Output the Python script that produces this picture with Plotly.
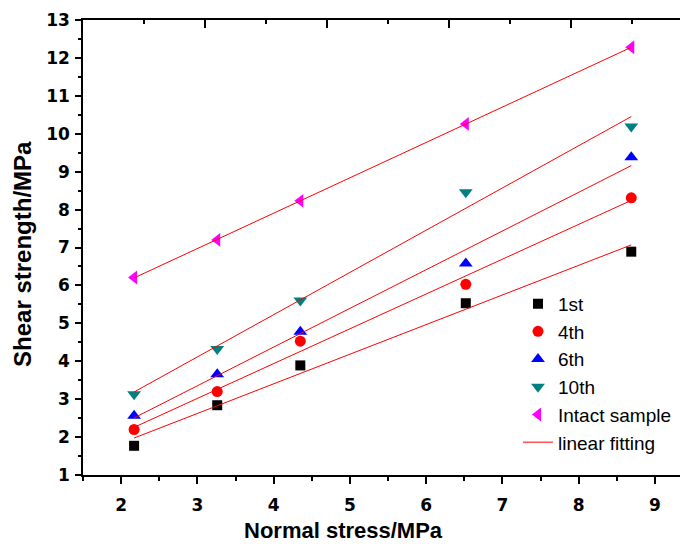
import numpy as np
import plotly.graph_objects as go

normal_stress = [2.17, 3.26, 4.35, 6.52, 8.69]
series_names = ["1st", "4th", "6th", "10th", "Intact sample"]
shear_1st = [1.77, 2.84, 3.89, 5.53, 6.89]
shear_4th = [2.20, 3.20, 4.53, 6.03, 8.31]
shear_6th = [2.56, 3.66, 4.78, 6.58, 9.38]
shear_10th = [3.13, 4.32, 5.60, 8.46, 10.19]
shear_intact = [6.21, 7.20, 8.23, 10.26, 12.28]
x_ticks = [2, 3, 4, 5, 6, 7, 8, 9]
y_ticks = list(range(1, 14))

series = [shear_1st, shear_4th, shear_6th, shear_10th, shear_intact]
symbols = ["square", "circle", "triangle-up", "triangle-down", "triangle-left"]
colors = ["#000000", "#FF0000", "#0000FF", "#008080", "#FF00FF"]
sizes = [10, 11, 12, 12, 12]

fig = go.Figure()
for name, ys, sym, col, sz in zip(series_names, series, symbols, colors, sizes):
    fig.add_trace(go.Scatter(x=normal_stress, y=ys, mode="markers", name=name,
                             marker=dict(symbol=sym, color=col, size=sz, line=dict(width=0))))

for i, ys in enumerate(series):
    k, b = np.polyfit(normal_stress, ys, 1)
    xs = [normal_stress[0], normal_stress[-1]]
    fig.add_trace(go.Scatter(x=xs, y=[k * xs[0] + b, k * xs[1] + b], mode="lines",
                             name="linear fitting", legendgroup="fit",
                             showlegend=(i == 0), line=dict(color="#FF0000", width=1)))

# decorative top/right axes (empty trace so they render)
fig.add_trace(go.Scatter(x=[], y=[], xaxis="x2", yaxis="y2", showlegend=False))

tickfont = dict(family="DejaVu Sans", size=17, color="black", weight="bold")

# page body has an 8px margin, so the figure is offset by (8, 8)
fig.update_layout(
    template="none",
    width=680, height=536,
    margin=dict(l=75, r=0, t=12, b=69, pad=0, autoexpand=False),
    paper_bgcolor="white", plot_bgcolor="white",
    showlegend=True,
    legend=dict(x=0.719, y=0.418, xanchor="left", yanchor="top",
                font=dict(family="Liberation Sans, Arial", size=19, color="black"),
                bgcolor="rgba(0,0,0,0)", borderwidth=0, tracegroupgap=0),
    xaxis=dict(range=[1.5, 9.434], domain=[0, 1], tickvals=x_ticks, automargin=False,
               ticks="outside", ticklen=7, tickwidth=1.5, tickcolor="black",
               ticklabelstandoff=7,
               minor=dict(dtick=0.5, ticklen=4, tickwidth=1.5, tickcolor="black", ticks="outside"),
               showline=True, linecolor="black", linewidth=1.5, mirror=False,
               showgrid=False, zeroline=False, tickfont=tickfont),
    yaxis=dict(range=[1, 13], tickvals=y_ticks, automargin=False,
               ticks="outside", ticklen=6, tickwidth=1.5, tickcolor="black",
               ticklabelstandoff=2,
               minor=dict(dtick=0.5, ticklen=3, tickwidth=1.5, tickcolor="black", ticks="outside"),
               showline=True, linecolor="black", linewidth=1.5, mirror=False,
               showgrid=False, zeroline=False, tickfont=tickfont),
    xaxis2=dict(overlaying="x", side="top", anchor="y", range=[0, 605 / 61], dtick=2,
                automargin=False,
                ticks="inside", ticklen=8, tickwidth=1.5, tickcolor="black",
                minor=dict(dtick=1, ticklen=4, tickwidth=1.5, tickcolor="black", ticks="inside"),
                showline=True, linecolor="black", linewidth=1.5,
                showticklabels=False, showgrid=False, zeroline=False),
    yaxis2=dict(overlaying="y", side="right", anchor="x", range=[0, 5], dtick=1,
                automargin=False,
                ticks="inside", ticklen=5, tickwidth=1.5, tickcolor="black",
                showline=False, showticklabels=False, showgrid=False, zeroline=False),
    annotations=[
        dict(text="Normal stress/MPa", xref="paper", yref="paper", x=0.431, y=-0.121,
             xanchor="center", yanchor="middle", showarrow=False,
             font=dict(family="Liberation Sans, Arial", size=22, color="black", weight="bold")),
        dict(text="Shear strength/MPa", xref="paper", yref="paper", x=-0.099, y=0.486,
             xanchor="center", yanchor="middle", showarrow=False, textangle=-90,
             font=dict(family="Liberation Sans, Arial", size=24, color="black", weight="bold")),
    ],
)

fig.write_html("out.html")
